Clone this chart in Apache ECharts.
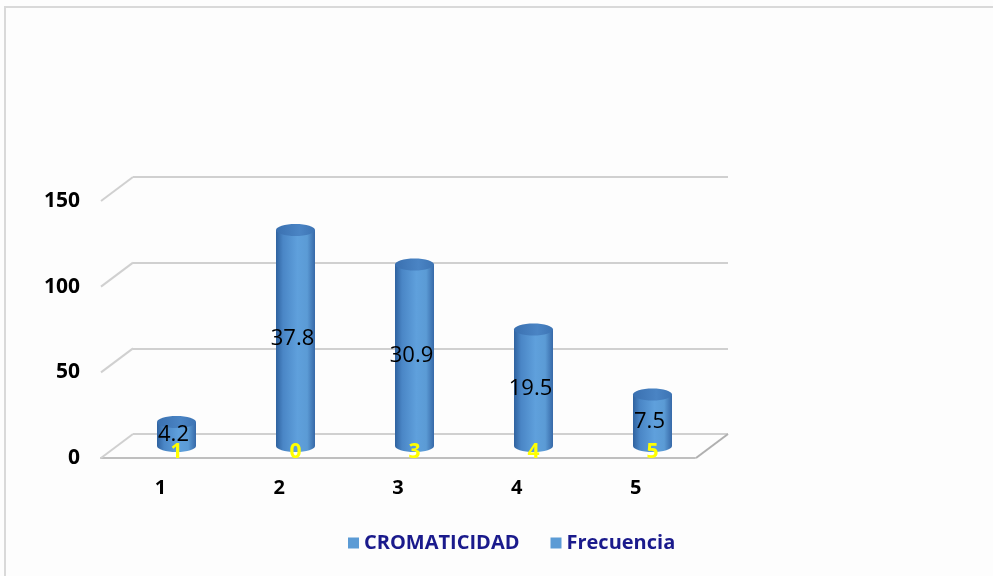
<!DOCTYPE html>
<html>
<head>
<meta charset="utf-8">
<title>CROMATICIDAD</title>
<script src="https://cdn.jsdelivr.net/npm/echarts@6/dist/echarts.min.js"></script>
<style>
  html, body { margin: 0; padding: 0; background: #fdfdfd; }
  #chart { width: 993px; height: 576px; }
</style>
</head>
<body>
<div id="chart"></div>
<script>
const categories = ['1', '2', '3', '4', '5']
const frecuencia = [14, 126, 106, 68, 30]
const porcentaje = ['4.2', '37.8', '30.9', '19.5', '7.5']
const cromaticidad = [1, 0, 3, 4, 5]
const yTicks = [0, 50, 100, 150]

const barBlue = '#5b9bd5'
const gridGray = '#d0d0d0'
const depthX = 32   // perspective shift from back wall to front edge
const depthY = 24

const myChart = echarts.init(document.getElementById('chart'))

// cylinder: body + bottom ellipse + top cap
function renderCylinder(params, api) {
  const i = api.value(0)
  const v = api.value(1)
  const base = api.coord([i, 0])
  const top = api.coord([i, v])
  const w = 39
  const ry = 6
  const cx = base[0]
  const bodyFill = new echarts.graphic.LinearGradient(0, 0, 1, 0, [
    { offset: 0, color: '#2f629f' },
    { offset: 0.18, color: '#4a86c6' },
    { offset: 0.55, color: '#5fa0dc' },
    { offset: 0.8, color: '#5b9bd5' },
    { offset: 1, color: '#3769a8' }
  ])
  const capFill = new echarts.graphic.LinearGradient(0, 0, 1, 0, [
    { offset: 0, color: '#3a70b0' },
    { offset: 0.6, color: '#4a84c4' },
    { offset: 1, color: '#3d74b4' }
  ])
  return {
    type: 'group',
    children: [
      { type: 'ellipse', shape: { cx: cx, cy: base[1], rx: w / 2, ry: ry }, style: { fill: bodyFill } },
      { type: 'rect', shape: { x: cx - w / 2, y: top[1], width: w, height: base[1] - top[1] }, style: { fill: bodyFill } },
      { type: 'ellipse', shape: { cx: cx, cy: top[1], rx: w / 2, ry: ry }, style: { fill: capFill } },
      {
        type: 'text',
        x: cx - 3,
        y: (top[1] + base[1]) / 2 + 1,
        style: {
          text: porcentaje[i],
          fill: '#000',
          font: '22px "Open Sans"',
          textAlign: 'center',
          textVerticalAlign: 'middle'
        }
      }
    ]
  }
}

// diagonal floor / wall lines joining back grid to the front edge
function renderDiagonal(params, api) {
  const v = api.value(1)
  const rect = params.coordSys
  const y = api.coord([0, v])[1]
  const lines = [{
    type: 'line',
    shape: { x1: rect.x, y1: y, x2: rect.x - depthX, y2: y + depthY },
    style: { stroke: gridGray, lineWidth: 2 }
  }]
  if (v === 0) {
    const xr = rect.x + rect.width
    lines.push({
      type: 'line',
      shape: { x1: xr, y1: y, x2: xr - depthX, y2: y + depthY },
      style: { stroke: '#b0b0b0', lineWidth: 2 }
    })
  }
  return { type: 'group', children: lines }
}

function renderYellow(params, api) {
  const i = api.value(0)
  const p = api.coord([i, 0])
  return {
    type: 'text',
    x: p[0],
    y: p[1] + 6,
    style: {
      text: String(api.value(1)),
      fill: '#ffff00',
      font: 'bold 21px "Open Sans"',
      textAlign: 'center',
      textVerticalAlign: 'middle'
    }
  }
}

const hiddenAxis = { show: false }

let option = {
  backgroundColor: '#fdfdfd',
  animation: false,
  color: [barBlue, barBlue],
  legend: {
    data: ['CROMATICIDAD', 'Frecuencia'],
    left: 343,
    top: 528,
    icon: 'rect',
    itemWidth: 11,
    itemHeight: 11,
    itemGap: 31,
    textStyle: {
      color: '#1a1a8c',
      fontWeight: 'bold',
      fontSize: 20,
      fontFamily: 'Open Sans'
    }
  },
  graphic: [{
    type: 'rect',
    shape: { x: 5, y: 7, width: 1000, height: 600 },
    style: { fill: 'none', stroke: '#d9d9d9', lineWidth: 2 },
    silent: true
  }],
  grid: [
    { left: 133, top: 177, width: 595, height: 257 },   // back wall
    { left: 117, top: 189, width: 595, height: 257 },   // bars
    { left: 101, top: 201, width: 594, height: 257 }    // front edge, labels
  ],
  xAxis: [
    { gridIndex: 0, type: 'category', data: categories, show: false },
    { gridIndex: 1, type: 'category', data: categories, show: false },
    {
      gridIndex: 2,
      type: 'category',
      data: categories,
      axisLine: { lineStyle: { color: '#bfbfbf', width: 2 } },
      axisTick: { show: false },
      axisLabel: {
        margin: 20,
        color: '#000',
        fontWeight: 'bold',
        fontSize: 20,
        fontFamily: 'Open Sans'
      }
    }
  ],
  yAxis: [
    {
      gridIndex: 0,
      type: 'value',
      min: 0,
      max: 150,
      interval: 50,
      axisLine: hiddenAxis,
      axisTick: hiddenAxis,
      axisLabel: hiddenAxis,
      splitLine: { lineStyle: { color: gridGray, width: 2 } }
    },
    { gridIndex: 1, type: 'value', min: 0, max: 150, interval: 50, show: false, splitLine: hiddenAxis },
    {
      gridIndex: 2,
      type: 'value',
      min: 0,
      max: 150,
      interval: 50,
      axisLine: hiddenAxis,
      axisTick: hiddenAxis,
      splitLine: hiddenAxis,
      axisLabel: {
        margin: 21,
        color: '#000',
        fontWeight: 'bold',
        fontSize: 21,
        fontFamily: 'Open Sans'
      }
    }
  ],
  series: [
    {
      name: 'diagonales',
      type: 'custom',
      xAxisIndex: 0,
      yAxisIndex: 0,
      silent: true,
      renderItem: renderDiagonal,
      data: yTicks.map(v => [0, v])
    },
    {
      name: 'CROMATICIDAD',
      type: 'custom',
      xAxisIndex: 1,
      yAxisIndex: 1,
      itemStyle: { color: barBlue },
      renderItem: renderYellow,
      data: cromaticidad.map((v, i) => [i, v]),
      z: 5
    },
    {
      name: 'Frecuencia',
      type: 'custom',
      xAxisIndex: 1,
      yAxisIndex: 1,
      itemStyle: { color: barBlue },
      renderItem: renderCylinder,
      data: frecuencia.map((v, i) => [i, v]),
      z: 3
    }
  ]
}

myChart.setOption(option)
</script>
</body>
</html>
